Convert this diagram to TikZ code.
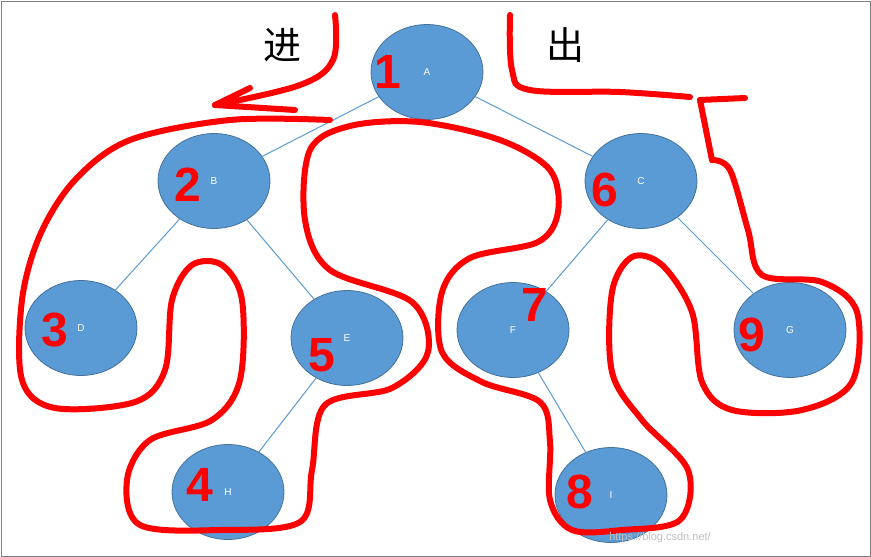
\documentclass[tikz,border=0pt]{standalone}
\usepackage{fontspec}
\setsansfont{Liberation Sans}
\newfontfamily\cjk{Noto Sans CJK SC}
\usetikzlibrary{shapes.geometric}
\begin{document}
\begin{tikzpicture}[x=1pt,y=-1pt]
\definecolor{nf}{HTML}{5B9BD5}
\definecolor{nd}{HTML}{41719C}
\tikzset{tn/.style={ellipse,fill=nf,draw=nd,line width=0.8pt,minimum width=112pt,minimum height=95pt,text=white,font=\sffamily\fontsize{10}{10}\selectfont},
 ed/.style={nf,line width=1pt},
 rp/.style={red,line width=6pt,line cap=round,line join=round},
 dg/.style={red,font=\sffamily\bfseries\fontsize{48}{48}\selectfont}}
\useasboundingbox (0,0) rectangle (871,557);
\fill[white] (0,0) rectangle (871,557);
\draw[gray,line width=1pt] (1,1) rectangle (870,556);
\node[tn] (A) at (427,72) {A};
\node[tn] (B) at (214,181) {B};
\node[tn] (C) at (641,181) {C};
\node[tn] (D) at (81,328) {D};
\node[tn] (E) at (347,338) {E};
\node[tn] (F) at (513,330) {F};
\node[tn] (G) at (790,330) {G};
\node[tn] (H) at (228,492) {H};
\node[tn] (I) at (611,495) {I};
\draw[ed] (A) -- (B); \draw[ed] (A) -- (C);
\draw[ed] (B) -- (D); \draw[ed] (B) -- (E);
\draw[ed] (C) -- (F); \draw[ed] (C) -- (G);
\draw[ed] (E) -- (H); \draw[ed] (F) -- (I);
\node[font=\cjk\fontsize{38}{38}\selectfont] (jin) at (282,45) {进};
\node[font=\cjk\fontsize{38}{38}\selectfont] (chu) at (565,45) {出};
\draw[rp] plot[smooth,tension=0.6] coordinates {(335,15) (333,60) (300,85) (215,105)};
\draw[rp] (215,105) -- (250,88);
\draw[rp] (215,105) -- (295,110);
\draw[rp] plot[smooth,tension=0.55] coordinates {(330,120) (230,120) (130,140) (75,180) (40,235) (22,300) (22,380) (55,408) (135,402) (165,370) (172,300) (192,265) (222,265) (242,300) (240,380) (212,420) (150,440) (127,480) (140,525) (220,530) (300,522) (312,470) (325,405) (392,388) (428,352) (412,302) (330,270) (305,220) (310,150) (350,126) (420,122) (500,140) (550,170) (558,212) (538,242) (470,258) (442,292) (442,352) (482,382) (540,402) (550,442) (550,500) (572,530) (622,530) (680,520) (688,470) (642,420) (612,372) (612,292) (632,257) (662,265) (692,312) (702,382) (732,410) (802,410) (852,382) (857,312) (822,282) (762,275) (748,230) (730,170) (712,160)};
\draw[rp] (712,160) -- (700,100);
\draw[rp] (700,100) -- (745,98);
\draw[rp] plot[smooth,tension=0.6] coordinates {(510,15) (512,70) (530,90) (620,92) (690,97)};
\node[dg] (n1) at (388,72) {1};
\node[dg] (n2) at (188,185) {2};
\node[dg] (n3) at (55,330) {3};
\node[dg] (n4) at (200,485) {4};
\node[dg] (n5) at (322,355) {5};
\node[dg] (n6) at (605,190) {6};
\node[dg] (n7) at (535,305) {7};
\node[dg] (n8) at (580,492) {8};
\node[dg] (n9) at (752,335) {9};
\node[white,font=\cjk\fontsize{15}{15}\selectfont] (wm) at (775,530) {@稀土掘金技术社区};
\node[gray!50,font=\sffamily\fontsize{11}{11}\selectfont] (url) at (660,538) {https://blog.csdn.net/};
\end{tikzpicture}
\end{document}
